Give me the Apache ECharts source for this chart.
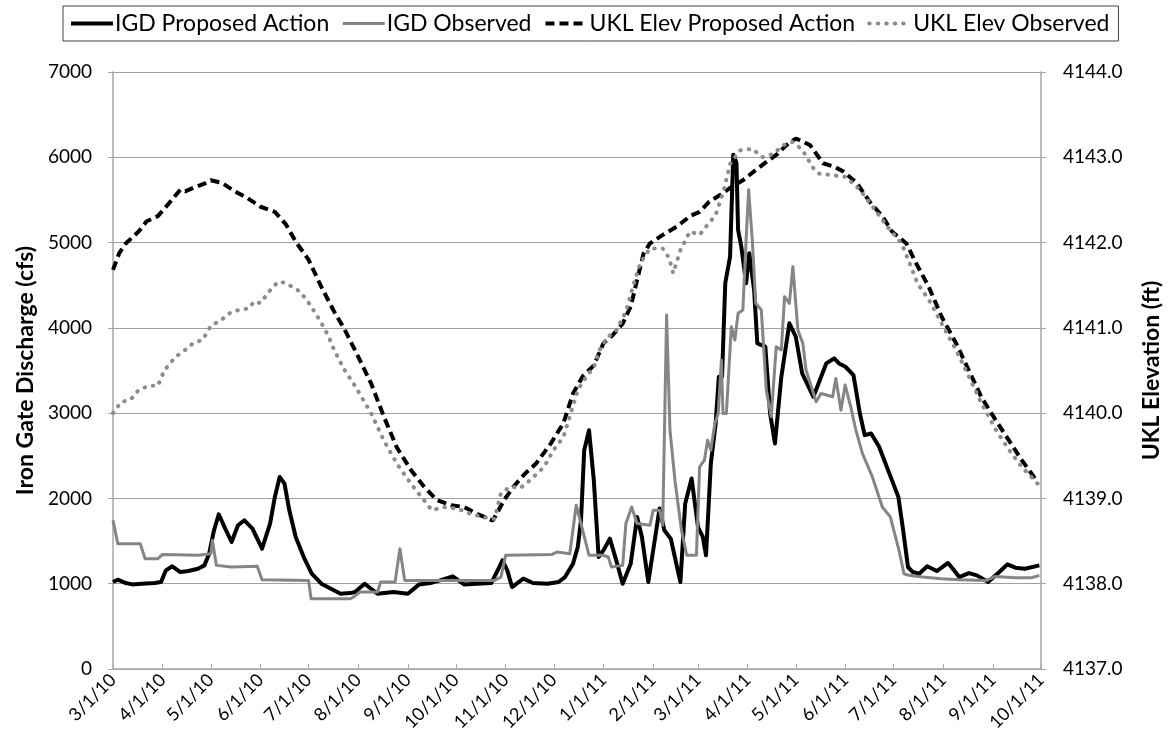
<!DOCTYPE html>
<html>
<head>
<meta charset="utf-8">
<script src="https://cdn.jsdelivr.net/npm/echarts@6/dist/echarts.min.js"></script>
<style>
html,body{margin:0;padding:0;background:#fff;}
#chart{width:1171px;height:751px;}
</style>
</head>
<body>
<div id="chart"></div>
<script>
// x values are days since 3/1/10
const START = Date.UTC(2010, 2, 1);
const monthTicks = [0,31,61,92,122,153,184,214,245,275,306,337,365,396,426,457,487,518,549,579];

const igdPropDays = [0,3,8,12,18,26,30,33,37,42,47,53,57,60,63,66,70,74,78,82,87,93,98,101,104,107,110,114,119,124,130,136,142,148,151,157,161,165,175,184,191,198,204,212,219,227,236,240,243,246,249,256,262,271,278,282,287,290,292,294,297,300,303,306,310,314,318,323,327,330,334,338,341,344,348,354,357,361,365,368,370,373,376,378,380,382,385,387,389,390,392,395,397,400,402,407,410,413,417,422,426,430,437,445,450,453,457,462,466,469,473,478,484,490,493,496,499,503,508,514,521,524,528,534,539,546,553,558,563,569,578];
const igdPropVals = [1020,1047,1008,992,1000,1008,1020,1157,1204,1137,1149,1176,1215,1352,1626,1814,1646,1489,1685,1744,1646,1411,1705,2018,2252,2174,1861,1548,1313,1117,1000,941,883,890,902,1000,941,883,902,883,992,1008,1039,1086,992,1000,1008,1157,1274,1157,961,1059,1008,1000,1020,1078,1235,1430,1744,2566,2800,2213,1313,1391,1528,1274,1000,1235,1783,1548,1020,1509,1881,1626,1528,1020,1939,2233,1665,1548,1333,2409,2879,3427,3427,4523,4836,6029,5932,5148,4953,4523,4875,4444,3818,3779,2996,2644,3427,4053,3896,3466,3192,3583,3642,3583,3544,3446,2996,2742,2761,2605,2311,2018,1626,1196,1137,1117,1204,1149,1243,1176,1078,1125,1098,1020,1137,1227,1188,1176,1215];

const igdObsDays = [0,3,17,20,28,31,53,61,62,64.5,74,90,93,122,123.6,148,150,154,165,167,176,179,182,238,242,245,274,277,285,289,292,297,306,309,311,318,320,323.6,327,335,337,341,343,345.4,347.5,350.6,354.7,358,364,366,369,371,373,375.5,377.6,379.6,380.6,382.7,385.8,388,390,393,395,396.6,399,401,404.5,407.6,410.7,413.8,417,419,422,424.2,427.3,430.4,432.4,438.7,441.7,449,451,454.2,456.8,460.3,463.5,467.6,473.8,480,485,490.4,493.5,496.6,505,517,528,545,550.5,563,573,578];
const igdObsVals = [1744,1470,1470,1294,1294,1344,1333,1352,1509,1215,1196,1204,1047,1039,824,824,843,902,902,1020,1020,1411,1039,1039,1078,1333,1344,1372,1352,1920,1705,1333,1333,1313,1196,1215,1705,1900,1705,1685,1861,1861,1685,4151,2800,2213,1626,1333,1333,2370,2448,2683,2566,2879,2996,3622,2996,2996,4014,3857,4170,4209,5031,5618,4992,4288,4209,3270,2957,3779,3740,4366,4288,4718,3974,3818,3505,3133,3231,3192,3407,3035,3329,3074,2800,2526,2252,1900,1783,1391,1117,1098,1078,1059,1047,1039,1086,1070,1070,1098];

const uklPropDays = [0,4,8,16,21,28,34,42,45,51,57,61,68,76,84,92,101,108,114,122,130,138,144,152,161,169,177,186,194,202,211,219,227,237,244,250,257,264,273,281,287,293,300,306,312,318,323,327,331,335,343,352,360,366,372,379,385,393,401,408,414,420,426,431,435,443,450,456,464,472,480,486,495,501,509,517,526,534,542,551,559,567,577];
const uklPropVals = [4141.68,4141.88,4141.99,4142.13,4142.25,4142.31,4142.44,4142.62,4142.60,4142.65,4142.69,4142.73,4142.70,4142.60,4142.52,4142.42,4142.36,4142.21,4142.01,4141.80,4141.48,4141.19,4141.00,4140.70,4140.35,4139.96,4139.60,4139.33,4139.14,4138.98,4138.92,4138.90,4138.82,4138.74,4138.98,4139.14,4139.29,4139.41,4139.64,4139.88,4140.23,4140.43,4140.56,4140.82,4140.92,4141.05,4141.25,4141.56,4141.87,4141.99,4142.09,4142.19,4142.31,4142.36,4142.48,4142.56,4142.64,4142.73,4142.85,4142.95,4143.03,4143.14,4143.22,4143.18,4143.14,4142.93,4142.89,4142.83,4142.70,4142.48,4142.31,4142.13,4141.99,4141.76,4141.48,4141.13,4140.82,4140.50,4140.18,4139.91,4139.68,4139.45,4139.19];

const uklObsDays = [0,5,11,16,22,28,32,39,45,50,56,61,68,74,79,85,88,92,98,103,107,112,117,123,129,134,138,144,151,161,169,177,186,194,199,206,215,223,231,238,242,248,254,260,269,275,281,285,290,296,300,303,308,314,320,325,329,335,343,347,349.5,354,360,366,371,376,381,385,391,399,405,412,418,424,430,437,440,449,457,466,474,483,492,497,502,509,517,526,534,542,551,559,567,577];
const uklObsVals = [4140.00,4140.13,4140.16,4140.27,4140.32,4140.32,4140.50,4140.66,4140.74,4140.82,4140.86,4141.02,4141.10,4141.19,4141.21,4141.23,4141.31,4141.29,4141.44,4141.54,4141.53,4141.48,4141.42,4141.27,4141.09,4140.92,4140.74,4140.52,4140.32,4140.00,4139.68,4139.41,4139.17,4138.98,4138.86,4138.90,4138.88,4138.82,4138.78,4138.76,4139.06,4139.14,4139.12,4139.21,4139.37,4139.57,4139.72,4139.96,4140.27,4140.45,4140.53,4140.72,4140.88,4140.97,4141.19,4141.52,4141.76,4141.93,4141.93,4141.82,4141.64,4141.91,4142.13,4142.09,4142.21,4142.32,4142.61,4142.92,4143.08,4143.10,4143.00,4143.04,4143.14,4143.18,4143.09,4142.87,4142.81,4142.79,4142.77,4142.62,4142.42,4142.19,4141.99,4141.76,4141.52,4141.33,4141.05,4140.74,4140.43,4140.11,4139.80,4139.57,4139.37,4139.17];

const seriesNames = ['IGD Proposed Action','IGD Observed','UKL Elev Proposed Action','UKL Elev Observed'];

function zip(a, b){ return a.map((d,i)=>[d,b[i]]); }
function dayLabel(v){
  const d = new Date(START + Math.round(v)*86400000);
  return (d.getUTCMonth()+1) + '/' + d.getUTCDate() + '/' + String(d.getUTCFullYear()).slice(2);
}

const FONT = 'Lato';
const axisGray = '#a6a6a6';
const legendWidths = [4, 3, 4, 4];
const chart = echarts.init(document.getElementById('chart'), null, {renderer:'canvas'});
chart.setOption({
  animation:false,
  backgroundColor:'#fff',
  textStyle:{fontFamily:FONT,color:'#000'},
  legend:{
    data:seriesNames.map((n,i)=>({name:n,lineStyle:{width:legendWidths[i]}})),
    left:63, top:6,
    padding:[6,9,6,6],
    itemGap:12,
    itemWidth:42, itemHeight:14,
    borderColor:'#404040', borderWidth:1,
    itemStyle:{opacity:0},
    textStyle:{fontFamily:FONT,fontSize:23,color:'#000',padding:[0,0,0,-3]}
  },
  grid:{left:113,right:127,top:72,bottom:82,containLabel:false},
  xAxis:{
    type:'value', min:0, max:579,
    axisLine:{show:true,lineStyle:{color:axisGray,width:1.5}},
    axisTick:{show:true,inside:true,length:5,lineStyle:{color:axisGray},customValues:monthTicks},
    axisLabel:{customValues:monthTicks,rotate:45,margin:8,fontSize:18,fontFamily:FONT,color:'#000',formatter:dayLabel},
    splitLine:{show:false}
  },
  yAxis:[{
    type:'value', min:0, max:7000, interval:1000,
    name:'Iron Gate Discharge (cfs)', nameLocation:'middle', nameRotate:90, nameGap:72,
    nameTextStyle:{fontFamily:FONT,fontWeight:'bold',fontSize:23,color:'#000'},
    axisLine:{show:true,lineStyle:{color:axisGray,width:1.5}},
    axisTick:{show:true,length:5,lineStyle:{color:axisGray}},
    axisLabel:{margin:21,fontSize:19,fontFamily:FONT,color:'#000',formatter:v=>String(v)},
    splitLine:{show:true,lineStyle:{color:'#a0a0a0',width:1}}
  },{
    type:'value', min:4137, max:4144, interval:1,
    name:'UKL Elevation (ft)', nameLocation:'middle', nameRotate:90, nameGap:99,
    nameTextStyle:{fontFamily:FONT,fontWeight:'bold',fontSize:23,color:'#000'},
    axisLine:{show:true,lineStyle:{color:axisGray,width:1.5}},
    axisTick:{show:true,length:5,lineStyle:{color:axisGray}},
    axisLabel:{margin:22,fontSize:19,fontFamily:FONT,color:'#000',formatter:v=>v.toFixed(1)},
    splitLine:{show:false}
  }],
  series:[{
    name:seriesNames[0], type:'line', yAxisIndex:0, showSymbol:false, symbol:'none',
    data:zip(igdPropDays,igdPropVals),
    lineStyle:{color:'#000',width:4,join:'round'}, itemStyle:{color:'#000'}
  },{
    name:seriesNames[1], type:'line', yAxisIndex:0, showSymbol:false, symbol:'none',
    data:zip(igdObsDays,igdObsVals),
    lineStyle:{color:'#858585',width:3,join:'round'}, itemStyle:{color:'#858585'}
  },{
    name:seriesNames[2], type:'line', yAxisIndex:1, showSymbol:false, symbol:'none',
    data:zip(uklPropDays,uklPropVals),
    lineStyle:{color:'#000',width:4,type:[9,5]}, itemStyle:{color:'#000'}
  },{
    name:seriesNames[3], type:'line', yAxisIndex:1, showSymbol:false, symbol:'none',
    data:zip(uklObsDays,uklObsVals),
    lineStyle:{color:'#8c8c8c',width:4,type:[0.5,8],cap:'round'}, itemStyle:{color:'#8c8c8c'}
  }]
});
</script>
</body>
</html>
